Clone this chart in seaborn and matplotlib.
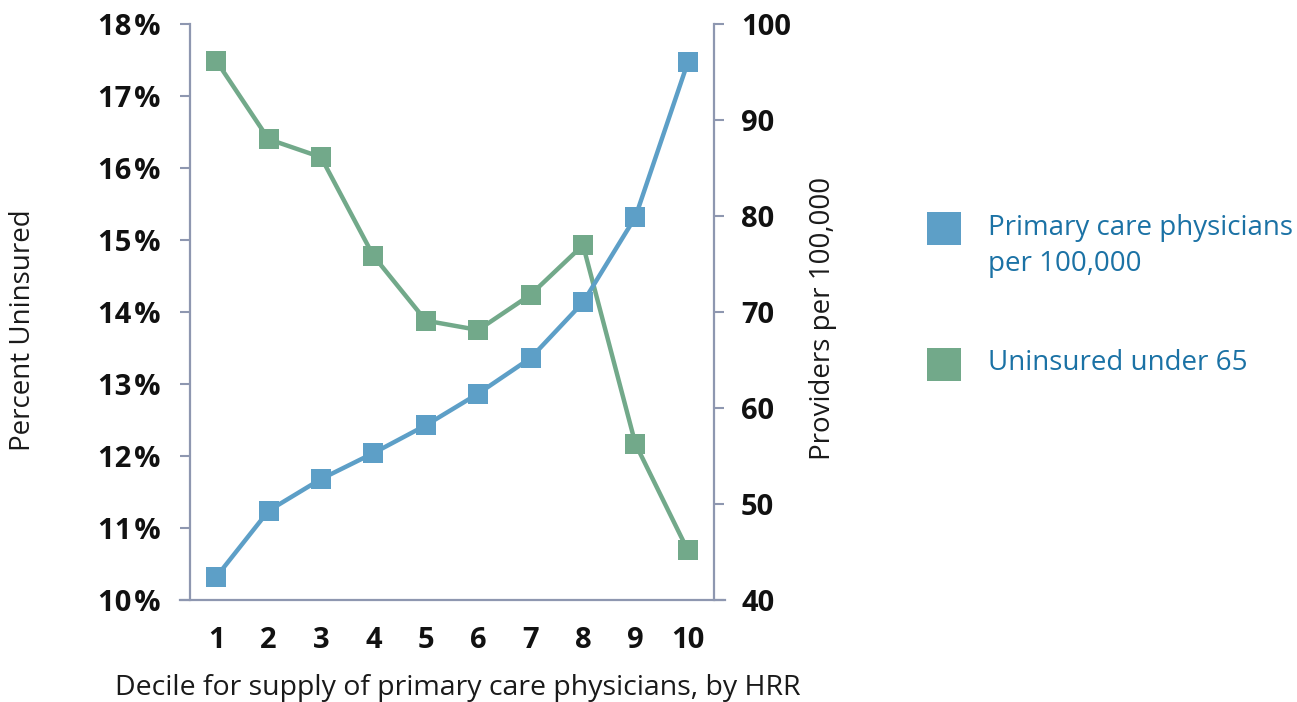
import matplotlib
matplotlib.use("Agg")
import matplotlib.pyplot as plt
from matplotlib.patches import Rectangle
from matplotlib.ticker import FuncFormatter, FixedLocator
import seaborn as sns
import pandas as pd

# Deciles of primary care physician supply (by HRR)
deciles = [1, 2, 3, 4, 5, 6, 7, 8, 9, 10]
# Percent uninsured under 65 (left axis)
uninsured_pct = [17.49, 16.40, 16.15, 14.78, 13.88, 13.75, 14.24, 14.93, 12.17, 10.69]
# Primary care physicians per 100,000 (right axis)
pcp_per_100k = [42.4, 49.3, 52.6, 55.3, 58.2, 61.5, 65.2, 71.0, 79.9, 96.0]

legend_pcp = ["Primary care physicians", "per 100,000"]
legend_unins = ["Uninsured under 65"]

BLUE = "#5d9fc7"
GREEN = "#72a98a"
SPINE = "#8e97b0"
LEGEND_TEXT = "#1b72a5"
TEXT = "#1a1a1a"

sns.set_style("white")
plt.rcParams["font.family"] = ["Open Sans", "DejaVu Sans"]

df = pd.DataFrame({"decile": deciles, "uninsured": uninsured_pct, "pcp": pcp_per_100k})

W, H = 1297, 702
fig = plt.figure(figsize=(W / 100, H / 100), dpi=100)
ax = fig.add_axes([190 / W, 1 - 600 / H, 524 / W, 576 / H])
ax2 = ax.twinx()

line_kw = dict(marker="s", markersize=14, linewidth=3.2, markeredgewidth=0)
sns.lineplot(data=df, x="decile", y="uninsured", ax=ax, color=GREEN, **line_kw)
sns.lineplot(data=df, x="decile", y="pcp", ax=ax2, color=BLUE, **line_kw)

ax.set_xlim(0.5, 10.5)
ax.set_ylim(10, 18)
ax2.set_ylim(40, 100)
ax.set_yticks(range(10, 19))
ax2.set_yticks(range(40, 101, 10))
ax.yaxis.set_major_formatter(FuncFormatter(lambda v, p: f"{v:.0f}\u200a%"))

# decile labels centred, tick marks on category boundaries
ax.set_xticks(deciles)
ax.set_xticklabels([str(d) for d in deciles])
ax.xaxis.set_minor_locator(FixedLocator([d + 0.5 for d in range(0, 11)]))
ax.tick_params(axis="x", which="major", length=0, pad=18.5)
ax.tick_params(axis="x", which="minor", length=6, width=1.5, color=SPINE, direction="out")

for a in (ax, ax2):
    a.spines["top"].set_visible(False)
    for s in a.spines.values():
        s.set_color(SPINE)
        s.set_linewidth(1.6)
ax.spines["right"].set_visible(False)
ax2.spines["left"].set_visible(False)
ax2.spines["bottom"].set_visible(False)
ax.spines["bottom"].set_bounds(0.31, 10.71)

ax.tick_params(axis="y", which="major", length=7.5, width=1.5, color=SPINE, direction="out", pad=14)
ax2.tick_params(axis="y", which="major", length=7.5, width=1.5, color=SPINE, direction="out", pad=12)
for lab in ax.get_yticklabels() + ax2.get_yticklabels() + ax.get_xticklabels():
    lab.set_fontsize(21)
    lab.set_fontweight("bold")
    lab.set_color("#111111")

ax.set_xlabel("Decile for supply of primary care physicians, by HRR", fontsize=20.5, color=TEXT)
ax.xaxis.set_label_coords((458 - 190) / 524, (600 - 674) / 576)
ax.set_ylabel("Percent Uninsured", fontsize=20, color=TEXT, va="center")
ax.yaxis.set_label_coords((23 - 190) / 524, (600 - 330) / 576)
ax2.set_ylabel("Providers per 100,000", fontsize=20, color=TEXT, va="center")
ax2.yaxis.set_label_coords((823 - 190) / 524, (600 - 318) / 576)

# legend: colour squares with label text to the right
def legend_entry(color, lines, sq_top, first_baseline):
    fig.add_artist(Rectangle((927 / W, 1 - (sq_top + 33) / H), 34 / W, 33 / H,
                             transform=fig.transFigure, facecolor=color, edgecolor="none"))
    for i, line in enumerate(lines):
        fig.text(988 / W, 1 - (first_baseline + 36 * i) / H, line, fontsize=20,
                 color=LEGEND_TEXT, ha="left", va="baseline")

legend_entry(BLUE, legend_pcp, 212, 235)
legend_entry(GREEN, legend_unins, 348, 370)

fig.savefig("out.png", dpi=100)
